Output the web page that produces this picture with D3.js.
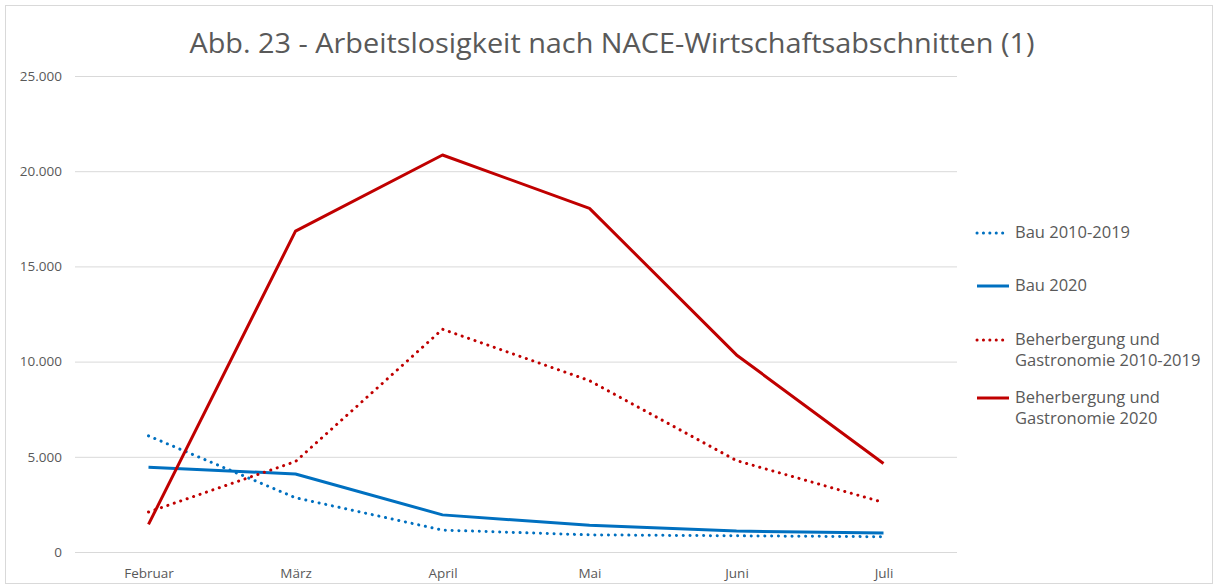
<!DOCTYPE html>
<html>
<head>
<meta charset="utf-8">
<script src="https://cdn.jsdelivr.net/npm/d3@7"></script>
<style>
  body { margin: 0; background: #fff; }
  text { font-family: "Open Sans", "Noto Sans", sans-serif; fill: #595959; }
</style>
</head>
<body>
<div id="chart"></div>
<script>
var months = ["Februar", "März", "April", "Mai", "Juni", "Juli"];
var bauAvg = [6100, 2850, 1150, 900, 850, 800];
var bau2020 = [4450, 4100, 1950, 1400, 1100, 1000];
var gastroAvg = [2100, 4750, 11700, 9000, 4800, 2600];
var gastro2020 = [1450, 16850, 20850, 18050, 10350, 4650];
var yTicks = [0, 5000, 10000, 15000, 20000, 25000];

var series = [
    {name: ["Bau 2010-2019"], values: bauAvg, color: "#0070C0", dotted: true},
    {name: ["Bau 2020"], values: bau2020, color: "#0070C0", dotted: false},
    {name: ["Beherbergung und", "Gastronomie 2010-2019"], values: gastroAvg, color: "#C00000", dotted: true},
    {name: ["Beherbergung und", "Gastronomie 2020"], values: gastro2020, color: "#C00000", dotted: false}
];

function init(){
    var w = 1215;
    var h = 586;
    var left = 75, right = 957, top = 76, bottom = 552;

    var svg = d3.select("#chart")
                .append("svg")
                .attr("width", w)
                .attr("height", h);

    // chart frame
    svg.append("rect")
        .attr("x", 5.5).attr("y", 5.5)
        .attr("width", w - 8).attr("height", h - 8)
        .attr("fill", "none")
        .attr("stroke", "#D9D9D9");

    svg.append("text")
        .attr("x", 612)
        .attr("y", 53)
        .attr("text-anchor", "middle")
        .attr("font-size", "28px")
        .attr("textLength", 845)
        .attr("lengthAdjust", "spacingAndGlyphs")
        .text("Abb. 23 - Arbeitslosigkeit nach NACE-Wirtschaftsabschnitten (1)");

    var xScale = d3.scalePoint()
                    .domain(months)
                    .range([left, right])
                    .padding(0.5);

    var yScale = d3.scaleLinear()
                    .domain([0, 25000])
                    .range([bottom, top]);

    var fmt = function(d) {
        return d3.format(",")(d).replace(/,/g, ".");
    };

    // y axis with gridlines
    var yAxis = svg.append("g")
        .attr("transform", "translate(" + left + ",0)")
        .call(d3.axisLeft(yScale)
            .tickValues(yTicks)
            .tickSize(-(right - left))
            .tickPadding(13)
            .tickFormat(fmt));
    yAxis.select(".domain").remove();
    yAxis.selectAll("line").attr("stroke", "#D9D9D9");
    yAxis.selectAll("text")
        .attr("font-size", "13.5px")
        .attr("fill", "#595959")
        .attr("font-family", "'Open Sans', sans-serif");

    // x axis labels
    var xAxis = svg.append("g")
        .attr("transform", "translate(0," + bottom + ")")
        .call(d3.axisBottom(xScale).tickSize(0).tickPadding(16));
    xAxis.select(".domain").remove();
    xAxis.selectAll("text")
        .attr("font-size", "13.5px")
        .attr("fill", "#595959")
        .attr("font-family", "'Open Sans', sans-serif");

    var line = d3.line()
        .x(function(d, i) { return xScale(months[i]); })
        .y(function(d) { return yScale(d); });

    svg.selectAll("path.series")
        .data(series)
        .enter()
        .append("path")
        .attr("class", "series")
        .attr("d", function(d) { return line(d.values); })
        .attr("fill", "none")
        .attr("stroke", function(d) { return d.color; })
        .attr("stroke-width", 3)
        .attr("stroke-linejoin", "round")
        .attr("stroke-dasharray", function(d) { return d.dotted ? "0.1 6.7" : null; })
        .attr("stroke-linecap", function(d) { return d.dotted ? "round" : "butt"; });

    // legend
    var legendY = [233, 286, 340, 398];
    var legend = svg.selectAll("g.legend")
        .data(series)
        .enter()
        .append("g")
        .attr("class", "legend")
        .attr("transform", function(d, i) { return "translate(975," + legendY[i] + ")"; });

    legend.append("line")
        .attr("x1", 2).attr("x2", 34)
        .attr("y1", 0).attr("y2", 0)
        .attr("stroke", function(d) { return d.color; })
        .attr("stroke-width", 3)
        .attr("stroke-dasharray", function(d) { return d.dotted ? "0.1 6.3" : null; })
        .attr("stroke-linecap", function(d) { return d.dotted ? "round" : "butt"; });

    legend.each(function(d) {
        var t = d3.select(this).append("text")
            .attr("x", 40)
            .attr("y", 5)
            .attr("font-size", "16.5px");
        d.name.forEach(function(s, k) {
            t.append("tspan").attr("x", 40).attr("dy", k === 0 ? 0 : 21).text(s);
        });
    });
}
window.onload = init;
</script>
</body>
</html>
